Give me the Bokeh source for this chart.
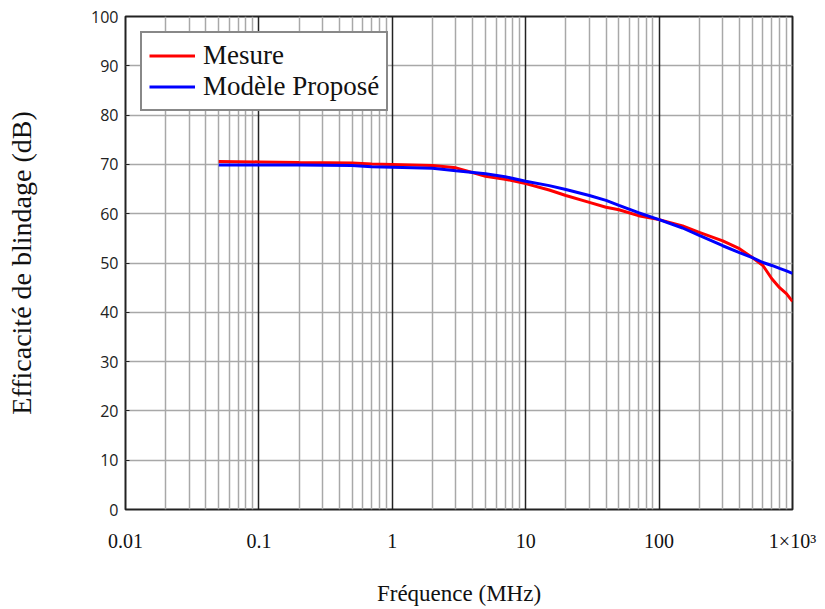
from bokeh.plotting import figure
from bokeh.models import FixedTicker, Grid, Legend, LegendItem
from bokeh.embed import file_html
from bokeh.resources import INLINE

# Data
freq_mhz = [0.05, 0.1, 0.2, 0.5, 0.7, 1, 2, 3, 5, 7, 10, 15, 20, 30, 40, 50,
            70, 100, 150, 200, 300, 400, 500, 600, 700, 800, 900, 1000]
mesure = [70.6, 70.5, 70.4, 70.3, 70.1, 70.0, 69.8, 69.3, 67.6, 67.0, 66.1,
          64.8, 63.7, 62.3, 61.3, 60.8, 59.6, 58.8, 57.5, 56.2, 54.5, 52.9,
          51.1, 49.5, 46.8, 45.0, 43.8, 42.2]
modele = [69.9, 69.9, 69.9, 69.8, 69.5, 69.4, 69.2, 68.7, 68.1, 67.5, 66.6,
          65.7, 64.9, 63.7, 62.7, 61.7, 60.2, 58.8, 57.1, 55.6, 53.5, 52.1,
          51.1, 50.1, 49.5, 48.9, 48.4, 47.9]

x_ticks = [0.01, 0.1, 1, 10, 100, 1000]
x_tick_labels = {0.01: "0.01", 0.1: "0.1", 1: "1", 10: "10", 100: "100", 1000: "1×10³"}
y_ticks = list(range(0, 101, 10))
x_minor = [m * 10.0 ** k for k in range(-2, 3) for m in range(2, 10)]

SERIF = "Liberation Serif"

p = figure(width=825, height=609, x_axis_type="log",
           x_range=(0.01, 1000), y_range=(0, 100), output_backend="svg",
           toolbar_location=None, min_border_left=125, min_border_right=33,
           min_border_top=16, min_border_bottom=100,
           background_fill_color="white", border_fill_color="white")

p.xgrid.visible = False
p.ygrid.visible = False

minor_grid = Grid(dimension=0, ticker=FixedTicker(ticks=x_minor),
                  grid_line_color="#a8a8a8", grid_line_width=1.5)
major_grid = Grid(dimension=0, ticker=FixedTicker(ticks=x_ticks),
                  grid_line_color="#222222", grid_line_width=1.5)
h_grid = Grid(dimension=1, ticker=FixedTicker(ticks=y_ticks),
              grid_line_color="#a8a8a8", grid_line_width=1.5)
p.add_layout(minor_grid)
p.add_layout(h_grid)
p.add_layout(major_grid)

p.outline_line_color = "#222222"
p.outline_line_width = 2

r1 = p.line(freq_mhz, mesure, line_color="#ff0000", line_width=3)
r2 = p.line(freq_mhz, modele, line_color="#0000ff", line_width=3)

# x axis
xa = p.xaxis[0]
xa.ticker = FixedTicker(ticks=x_ticks)
xa.major_label_overrides = x_tick_labels
xa.minor_tick_line_color = None
xa.major_tick_line_color = None
xa.major_tick_out = 0
xa.major_tick_in = 0
xa.minor_tick_out = 0
xa.axis_line_color = None
xa.major_label_text_font = SERIF
xa.major_label_text_font_size = "20px"
xa.major_label_text_color = "#111111"
xa.major_label_standoff = 20
xa.axis_label = "Fréquence (MHz)"
xa.axis_label_text_font = SERIF
xa.axis_label_text_font_style = "normal"
xa.axis_label_text_font_size = "23px"
xa.axis_label_text_color = "#111111"
xa.axis_label_standoff = 26

# y axis
ya = p.yaxis[0]
ya.ticker = FixedTicker(ticks=y_ticks)
ya.minor_tick_line_color = None
ya.minor_tick_out = 0
ya.major_tick_out = 0
ya.major_tick_in = 4
ya.major_tick_line_color = "#222222"
ya.axis_line_color = None
ya.major_label_text_font = "Open Sans"
ya.major_label_text_font_size = "16px"
ya.major_label_text_color = "#222222"
ya.major_label_standoff = 7
ya.axis_label = "Efficacité de blindage (dB)"
ya.axis_label_text_font = SERIF
ya.axis_label_text_font_style = "normal"
ya.axis_label_text_font_size = "28px"
ya.axis_label_text_color = "#111111"
ya.axis_label_standoff = 51

legend = Legend(items=[LegendItem(label="Mesure", renderers=[r1]),
                       LegendItem(label="Modèle Proposé", renderers=[r2])],
                location="top_left", margin=15)
legend.label_text_font = SERIF
legend.label_text_font_size = "27px"
legend.label_text_color = "#111111"
legend.border_line_color = "#111111"
legend.border_line_width = 2
legend.background_fill_color = "white"
legend.background_fill_alpha = 1.0
legend.glyph_width = 46
legend.glyph_height = 29
legend.label_height = 29
legend.label_standoff = 8
legend.spacing = 0
legend.padding = 7
p.add_layout(legend)

open("out.html", "w").write(file_html(p, INLINE))
